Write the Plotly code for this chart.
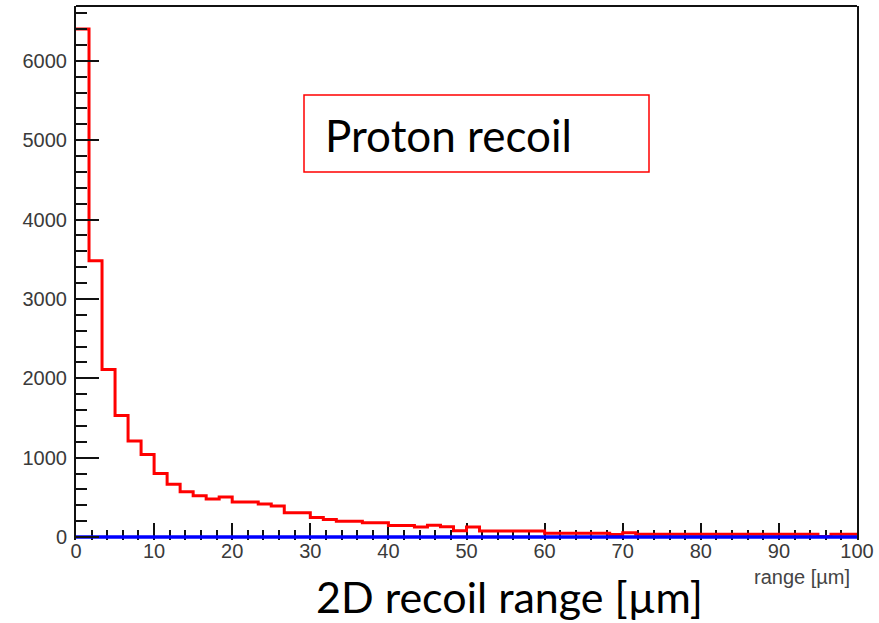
import numpy as np
import plotly.graph_objects as go

# ---- data ----
range_lo = 0.0
range_hi = 100.0
n_bins = 60
proton_counts = [6400, 3480, 2110, 1530, 1210, 1040, 800, 665, 570, 520,
                 480, 505, 440, 440, 415, 390, 305, 305, 245, 220,
                 200, 200, 178, 178, 145, 145, 125, 148, 130, 78,
                 125, 75, 75, 75, 75, 75, 47, 47, 47, 47,
                 47, 30, 55, 35, 35, 35, 35, 35, 35, 35,
                 35, 35, 35, 35, 35, 35, 35, 5, 35, 35]
other_counts = [0] * n_bins
y_tick_vals = [0, 1000, 2000, 3000, 4000, 5000, 6000]
x_tick_vals = [0, 10, 20, 30, 40, 50, 60, 70, 80, 90, 100]

edges = np.linspace(range_lo, range_hi, n_bins + 1)

def step_xy(counts):
    xs = list(edges[:-1]) + [edges[-1]]
    ys = list(counts) + [counts[-1]]
    return xs, ys

fig = go.Figure()
rx, ry = step_xy(proton_counts)
fig.add_trace(go.Scatter(x=rx, y=ry, mode="lines", line_shape="hv",
                         line=dict(color="#ff0000", width=3), showlegend=False))
bx, by = step_xy(other_counts)
fig.add_trace(go.Scatter(x=bx, y=by, mode="lines", line_shape="hv",
                         line=dict(color="#0000ff", width=3.5), showlegend=False))

W, H = 879, 623
L, R, T, B = 76, 22, 6, 83
pw, ph = W - L - R, H - T - B
y_top = 6690
px_per_unit = 531 / y_top
y_bottom = -(3 / px_per_unit)

def px_x(px):
    return (px - L) / pw

def px_y(py):
    return (H - B - py) / ph

tick_font = dict(family="Liberation Sans, Arial, sans-serif", size=20, color="#3a3a3a")

fig.update_layout(
    width=W, height=H,
    margin=dict(l=L, r=R, t=T, b=B, pad=0),
    paper_bgcolor="white", plot_bgcolor="white",
    xaxis=dict(range=[range_lo, range_hi], tickvals=x_tick_vals, ticks="inside",
               ticklen=17, tickwidth=2, tickcolor="#111", showgrid=False, zeroline=False,
               showline=False, tickfont=tick_font, ticklabelstandoff=-3,
               layer="below traces",
               minor=dict(dtick=2, ticks="inside", ticklen=10, tickwidth=2, tickcolor="#111", showgrid=False)),
    yaxis=dict(range=[y_bottom, y_top], tickvals=y_tick_vals, ticks="inside",
               ticklen=23, tickwidth=2, tickcolor="#111", showgrid=False, zeroline=False,
               showline=True, linecolor="#111", linewidth=2, mirror=True,
               tickfont=tick_font, ticklabelstandoff=3,
               minor=dict(dtick=200, tick0=0, ticks="inside", ticklen=11, tickwidth=2, tickcolor="#111", showgrid=False)),
)

# top frame line
fig.add_shape(type="line", xref="paper", yref="paper", x0=0, x1=1, y0=1, y1=1,
              line=dict(color="#111", width=2))

fig.add_shape(type="rect", xref="paper", yref="paper",
              x0=px_x(304), x1=px_x(649), y0=px_y(172), y1=px_y(95),
              line=dict(color="#ff0000", width=1.5), fillcolor="rgba(0,0,0,0)")

fig.add_annotation(xref="paper", yref="paper", x=px_x(323), y=px_y(135),
                   xanchor="left", yanchor="middle", showarrow=False,
                   text="Proton recoil", font=dict(family="Lato", size=44, color="#000"))

fig.add_annotation(xref="paper", yref="paper", x=px_x(852), y=px_y(577),
                   xanchor="right", yanchor="middle", showarrow=False,
                   text="range [µm]", font=dict(family="Liberation Sans, Arial, sans-serif", size=20, color="#444"))

fig.add_annotation(xref="paper", yref="paper", x=px_x(509), y=px_y(623),
                   xanchor="center", yanchor="bottom", showarrow=False, borderpad=0,
                   text="2D recoil range [µm]", font=dict(family="Lato", size=43, color="#000"))

fig.write_html("out.html")
